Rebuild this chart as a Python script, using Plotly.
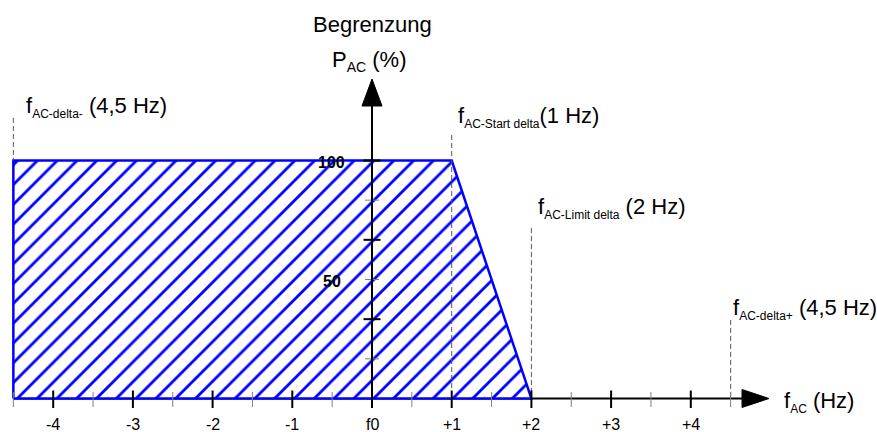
import plotly.graph_objects as go

# Corner points of the power limit curve: frequency deviation (Hz) vs. P_AC (%)
curve_freq = [-4.5, -4.5, 1.0, 2.0, -4.5]
curve_power = [0, 100, 100, 0, 0]

# Characteristic frequencies with dashed guide lines
marker_freq = [-4.5, 1.0, 2.0, 4.5]
marker_top = [117.9, 110.7, 71.6, 33.0]
marker_bottom = [100, 0, 0, 0]
marker_names = ["AC-delta-", "AC-Start delta", "AC-Limit delta", "AC-delta+"]
marker_values = ["(4,5 Hz)", "(1 Hz)", "(2 Hz)", "(4,5 Hz)"]
marker_gap = [" ", "", " ", " "]

# Axis ticks and labels
x_major = [-4, -3, -2, -1, 0, 1, 2, 3, 4]
x_labels = ["-4", "-3", "-2", "-1", "f0", "+1", "+2", "+3", "+4"]
x_minor = [-4.5, -3.5, -2.5, -1.5, -0.5, 0.5, 1.5, 2.5, 3.5, 4.5]
y_major = [100, 200 / 3, 100 / 3]
y_minor = [250 / 3, 50, 50 / 3]
y_label_vals = [100, 50]
y_labels = ["100", "50"]

# Page geometry (pixels)
W, H = 877, 432
X0, PX_X = 372.0, 79.7      # pixel of f0, pixels per Hz
Y0, PX_Y = 398.5, 2.38      # pixel of 0 %, pixels per %

def dx(px):
    return px / PX_X

def dy(px):
    return px / PX_Y

def x_at(px):
    return (px - X0) / PX_X

def y_at(py):
    return (Y0 - py) / PX_Y

def paper_y(py):
    return 1 - py / H

FONT = "Liberation Sans, Arial, sans-serif"
BLUE = "#0000ff"

x_end = x_at(742)     # x-axis arrow base
x_tip = x_at(769)
y_end = y_at(106)     # y-axis arrow base
y_tip = y_at(79)

fig = go.Figure()

# x axis line
fig.add_trace(go.Scatter(x=[-4.5, x_end], y=[0, 0], mode="lines",
                         line=dict(color="black", width=2), hoverinfo="skip"))

# hatched limit area
fig.add_trace(go.Scatter(
    x=curve_freq, y=curve_power, mode="lines", fill="toself",
    fillcolor="white",
    fillpattern=dict(shape="/", fgcolor=BLUE, fgopacity=1, bgcolor="white",
                     size=14, solidity=0.2),
    line=dict(color=BLUE, width=2.5), hoverinfo="skip"))

# dashed guides
gx, gy = [], []
for f, t, b in zip(marker_freq, marker_top, marker_bottom):
    gx += [f, f, None]
    gy += [t, b, None]
fig.add_trace(go.Scatter(x=gx, y=gy, mode="lines",
                         line=dict(color="#555555", width=1, dash="5px,3px"),
                         hoverinfo="skip"))

# minor ticks
mx, my = [], []
for v in x_minor:
    mx += [v, v, None]
    my += [dy(6.5), -dy(8.5), None]
for v in y_minor:
    mx += [-dx(7), dx(7), None]
    my += [v, v, None]
fig.add_trace(go.Scatter(x=mx, y=my, mode="lines",
                         line=dict(color="#808080", width=1), hoverinfo="skip"))

# major ticks
kx, ky = [], []
for v in x_major:
    kx += [v, v, None]
    ky += [dy(8), -dy(9.5), None]
for v in y_major:
    kx += [-dx(8.5), dx(8.5), None]
    ky += [v, v, None]
fig.add_trace(go.Scatter(x=kx, y=ky, mode="lines",
                         line=dict(color="black", width=2), hoverinfo="skip"))

# y axis line
fig.add_trace(go.Scatter(x=[0, 0], y=[-dy(9.5), y_end], mode="lines",
                         line=dict(color="black", width=2), hoverinfo="skip"))

# arrow heads
fig.add_trace(go.Scatter(
    x=[x_end, x_tip, x_end, x_end], y=[dy(9), 0, -dy(9), dy(9)],
    mode="lines", fill="toself", fillcolor="black",
    line=dict(color="black", width=1), hoverinfo="skip"))
fig.add_trace(go.Scatter(
    x=[-dx(10), 0, dx(10), -dx(10)], y=[y_end, y_tip, y_end, y_end],
    mode="lines", fill="toself", fillcolor="black",
    line=dict(color="black", width=1), hoverinfo="skip"))

ann = []
# titles
ann.append(dict(x=0, y=paper_y(25), xref="x", yref="paper", text="Begrenzung",
                showarrow=False, xanchor="center", yanchor="middle",
                font=dict(family=FONT, size=22, color="black")))
ann.append(dict(x=0, y=paper_y(61), xref="x", yref="paper", xshift=-3,
                text='P<sub><span style="font-size:14px">AC</span></sub> (%)',
                showarrow=False, xanchor="center", yanchor="middle",
                font=dict(family=FONT, size=22, color="black")))
ann.append(dict(x=x_tip, y=paper_y(402), xref="x", yref="paper", xshift=13,
                text='f<sub><span style="font-size:12px">AC</span></sub> (Hz)',
                showarrow=False, xanchor="left", yanchor="middle",
                font=dict(family=FONT, size=22, color="black")))

# characteristic frequency labels
label_py = [107, 117, 208, 309]
label_shift = [11, 4, 5, 0]
for f, name, val, gap, py, sh in zip(marker_freq, marker_names, marker_values,
                                      marker_gap, label_py, label_shift):
    ann.append(dict(x=f, y=paper_y(py), xref="x", yref="paper", xshift=sh,
                    text=f'f<sub><span style="font-size:12px">{name}</span></sub>{gap}{val}',
                    showarrow=False, xanchor="left", yanchor="middle",
                    font=dict(family=FONT, size=22, color="black")))

# tick labels
for v, t in zip(x_major, x_labels):
    ann.append(dict(x=v, y=0, xref="x", yref="y", yshift=-26, text=t,
                    showarrow=False, xanchor="center", yanchor="middle",
                    font=dict(family=FONT, size=16, color="black")))
for v, t in zip(y_label_vals, y_labels):
    ann.append(dict(x=0, y=v, xref="x", yref="y", xshift=-40.5, yshift=-2,
                    text=f"<b>{t}</b>", showarrow=False,
                    xanchor="center", yanchor="middle",
                    font=dict(family=FONT, size=16, color="black")))

fig.update_layout(
    width=W, height=H,
    margin=dict(l=0, r=0, t=0, b=0),
    paper_bgcolor="white", plot_bgcolor="white",
    showlegend=False,
    xaxis=dict(range=[x_at(0), x_at(W)], visible=False, fixedrange=True),
    yaxis=dict(range=[y_at(H), y_at(0)], visible=False, fixedrange=True),
    annotations=ann,
)

fig.write_html("out.html")
